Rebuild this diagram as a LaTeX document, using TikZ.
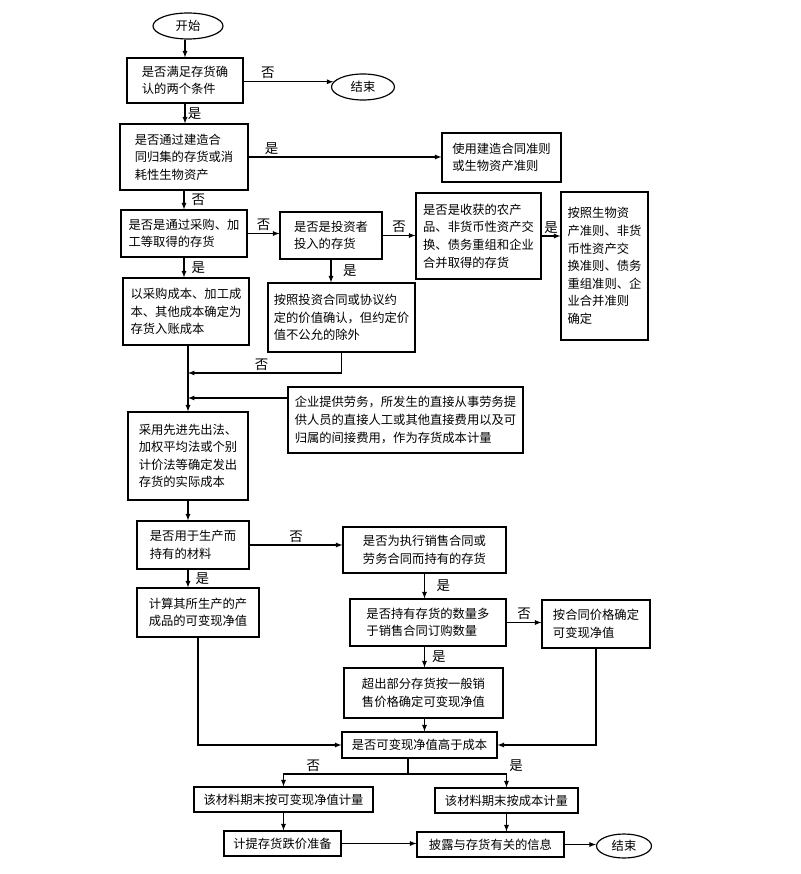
\documentclass[tikz,border=0pt]{standalone}
\usepackage{fontspec}
\setmainfont{Noto Sans CJK SC}
\usetikzlibrary{shapes.geometric}
\newcommand{\px}{0.03cm}
\newcommand{\taille}{\fontsize{10.5pt}{15pt}\selectfont}
\tikzstyle{boite}=[draw, line width=1pt, align=left, font=\taille, inner sep=3pt]
\tikzstyle{bulle}=[draw, ellipse, line width=1pt, font=\taille, inner sep=0pt]
\tikzstyle{fleche}=[->, >=latex, line width=0.9pt]
\tikzstyle{trait}=[line width=0.9pt]
\tikzstyle{etiq}=[font=\fontsize{11.5pt}{13pt}\selectfont, inner sep=2pt]
\tikzset{dim/.style 2 args={minimum width=#1*\px, minimum height=#2*\px}}

\begin{document}
\begin{tikzpicture}[x=\px,y=-\px]

\useasboundingbox (0,0) rectangle (800,874);

% reconnaissance
\node[bulle, dim={70}{26}] (debut) at (188,26) {开始};
\node[boite, dim={116}{45}] (A) at (185,80.5) {是否满足存货确\\认的两个条件};
\node[bulle, dim={63}{26}] (fin1) at (363,87) {结束};
\node[boite, dim={128}{66}] (B) at (184,157) {是否通过建造合\\同归集的存货或消\\耗性生物资产};
\node[boite, dim={119}{49}] (C) at (501.5,157.5) {使用建造合同准则\\或生物资产准则};

% evaluation initiale
\node[boite, dim={126}{47}] (D) at (184,233.5) {是否是通过采购、加\\工等取得的存货};
\node[boite, dim={102}{47}] (E) at (331,235.5) {是否是投资者\\投入的存货};
\node[boite, dim={125}{86}] (F) at (478.5,236) {是否是收获的农产\\品、非货币性资产交\\换、债务重组和企业\\合并取得的存货};
\node[boite, dim={87}{148}] (G) at (604.5,266) {按照生物资\\产准则、非货\\币性资产交\\换准则、债务\\重组准则、企\\业合并准则\\确定};
\node[boite, dim={126}{67}] (H) at (186,311.5) {以采购成本、加工成\\本、其他成本确定为\\存货入账成本};
\node[boite, dim={147}{69}] (I) at (341.5,317.5) {按照投资合同或协议约\\定的价值确认，但约定价\\值不公允的除外};
\node[boite, dim={235}{66}] (K) at (405.5,420) {企业提供劳务，所发生的直接从事劳务提\\供人员的直接人工或其他直接费用以及可\\归属的间接费用，作为存货成本计量};
\node[boite, dim={120}{88}] (J) at (188,456) {采用先进先出法、\\加权平均法或个别\\计价法等确定发出\\存货的实际成本};

% evaluation finale
\node[boite, dim={112}{48}] (L) at (193,545) {是否用于生产而\\持有的材料};
\node[boite, dim={163}{46}] (M) at (424.5,550) {是否为执行销售合同或\\劳务合同而持有的存货};
\node[boite, dim={122}{49}] (N) at (198,612.5) {计算其所生产的产\\成品的可变现净值};
\node[boite, dim={156}{47}] (O) at (428,622.5) {是否持有存货的数量多\\于销售合同订购数量};
\node[boite, dim={108}{48}] (R) at (596,624) {按合同价格确定\\可变现净值};
\node[boite, dim={159}{50}] (P) at (423.5,693) {超出部分存货按一般销\\售价格确定可变现净值};
\node[boite, dim={155}{26}] (Q) at (419.5,745) {是否可变现净值高于成本};
\node[boite, dim={179}{25}] (S) at (283.5,799.5) {该材料期末按可变现净值计量};
\node[boite, dim={143}{25}] (T) at (506.5,800.5) {该材料期末按成本计量};
\node[boite, dim={117}{25}] (U) at (282.5,843.5) {计提存货跌价准备};
\node[boite, dim={147}{25}] (V) at (490.5,844.5) {披露与存货有关的信息};
\node[bulle, dim={55}{24}] (fin2) at (624,846) {结束};

\coordinate (j1) at (188,373);
\coordinate (j2) at (188,398);
\coordinate (sep) at (408,774);

\draw[fleche] (A.north |- debut.south) -- (A.north);
\draw[fleche] (A.east |- fin1.170) -- (fin1.170) node[etiq, pos=0.27, above]{否};
\draw[fleche] (A.south) -- (A.south |- B.north) node[etiq, midway, right]{是};
\draw[fleche] (B.east) -- (B.east -| C.west) node[etiq, pos=0.12, above]{是};
\draw[fleche] (B.south) -- (B.south |- D.north) node[etiq, midway, right, xshift=4pt]{否};
\draw[fleche] (D.east) -- (D.east -| E.west) node[etiq, midway, above]{否};
\draw[fleche] (E.east) -- (E.east -| F.west) node[etiq, midway, above]{否};
\draw[fleche] (F.east) -- (F.east -| G.west) node[etiq, midway, above]{是};
\draw[fleche] (D.south) -- (D.south |- H.north) node[etiq, midway, right, xshift=4pt]{是};
\draw[fleche] (E.south) -- (E.south |- I.north) node[etiq, midway, right, xshift=8pt]{是};
\draw[fleche] (J.north |- H.south) -- (J.north);
\draw[fleche] (I.south) |- (j1) node[etiq, pos=0.76, above]{否};
\draw[fleche] (K.west |- j2) -- (j2);

\draw[fleche] (J.south) -- (J.south |- L.north);
\draw[fleche] (L.east) -- (L.east -| M.west) node[etiq, midway, above]{否};
\draw[fleche] (L.south -| J.south) -- (N.north -| J.south) node[etiq, midway, right, xshift=4pt]{是};
\draw[fleche] (M.south) -- (M.south |- O.north) node[etiq, midway, right, xshift=8pt]{是};
\draw[fleche] (O.east) -- (O.east -| R.west) node[etiq, midway, above]{否};
\draw[fleche] (O.south -| M.south) -- (P.north -| M.south) node[etiq, midway, right, xshift=4pt]{是};
\draw[fleche] (P.south -| M.south) -- (Q.north -| M.south);
\draw[fleche] (N.south) |- (Q.west);
\draw[fleche] (R.south) |- (Q.east);

\draw[trait] (Q.south -| sep) -- (sep);
\draw[fleche] (sep) -| (S.north) node[etiq, pos=0.38, above]{否};
\draw[fleche] (sep) -| (T.north) node[etiq, pos=0.5, above right]{是};
\draw[fleche] (S.south) -- (S.south |- U.north);
\draw[fleche] (T.south) -- (T.south |- V.north);
\draw[fleche] (U.east) -- (U.east -| V.west);
\draw[fleche] (V.east) -- (V.east -| fin2.west);

\end{tikzpicture}
\end{document}
